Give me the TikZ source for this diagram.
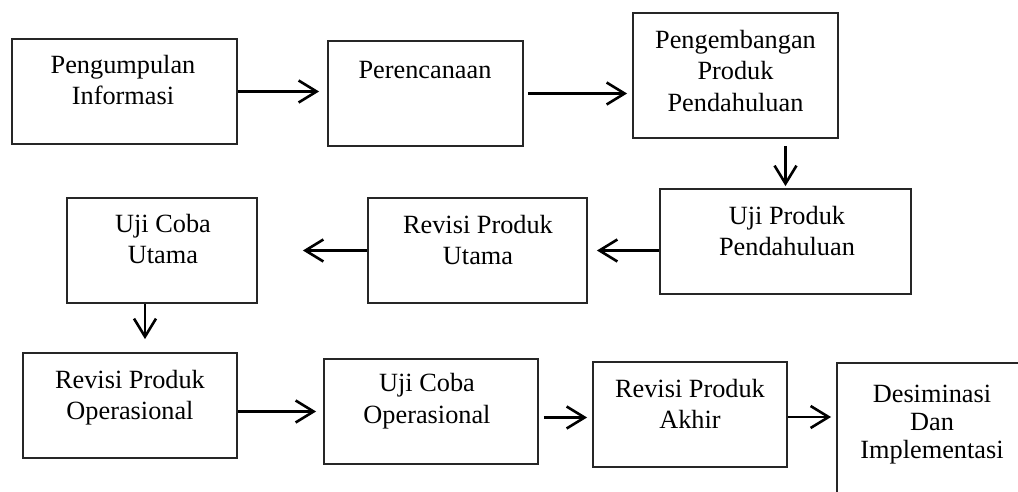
\documentclass[tikz,border=0pt]{standalone}
\usepackage{fontspec}
\setmainfont{Liberation Serif}
\usetikzlibrary{arrows.meta}
\tikzset{
  box/.style={draw=black!85, line width=1.8pt, inner sep=0pt, minimum height=105pt},
  lbl/.style={align=center, inner sep=0pt, font=\fontsize{26.3}{31.5}\selectfont},
  arr/.style={draw=black, line width=2.6pt, -{Straight Barb[length=18pt,width=22pt,line width=2.6pt]}}
}
\begin{document}
\begin{tikzpicture}[x=1pt,y=-1pt]
\useasboundingbox (0,0) rectangle (1018,492);
\clip (0,0) rectangle (1018,492);
% boxes
\node[box, minimum width=225pt] (b1) at (124.5,91.5) {};
\node[box, minimum width=195pt] (b2) at (425.5,93.5) {};
\node[box, minimum width=205pt, minimum height=125pt] (b3) at (735.5,75.5) {};
\node[box, minimum width=251pt] (b4) at (785.5,241.5) {};
\node[box, minimum width=219pt] (b5) at (477.5,250.5) {};
\node[box, minimum width=190pt] (b6) at (162,250.5) {};
\node[box, minimum width=214pt] (b7) at (130,405.5) {};
\node[box, minimum width=214pt] (b8) at (431,411.5) {};
\node[box, minimum width=194pt] (b9) at (690,414.5) {};
\node[box, minimum width=200pt, minimum height=156pt] (b10) at (937,441) {};
% labels
\node[lbl] (t1) at (123,80) {Pengumpulan\\Informasi};
\node[lbl] (t2) at (425,70) {Perencanaan};
\node[lbl] (t3) at (735.5,71) {Pengembangan\\Produk\\Pendahuluan};
\node[lbl] (t4) at (787,231) {Uji Produk\\Pendahuluan};
\node[lbl] (t5) at (478,240) {Revisi Produk\\Utama};
\node[lbl] (t6) at (163,239) {Uji Coba\\Utama};
\node[lbl] (t7) at (130,397.5) {Revisi Produk\\Operasional};
\node[lbl] (t8) at (427,401) {Uji Coba\\Operasional};
\node[lbl] (t9) at (690,404) {Revisi Produk\\Akhir};
\node[lbl, font=\fontsize{26.3}{28.3}\selectfont] (t10) at (932,424.5) {Desiminasi\\Dan\\Implementasi};
% connectors
\draw[arr, shorten >=8pt] (b1.east) -- (b1.east -| b2.west);
\draw[arr, shorten <=4pt, shorten >=5pt] (b2.east) -- (b2.east -| b3.west);
\draw[arr, shorten <=7pt, shorten >=2pt] (b3.south -| b4.north) -- (b4.north);
\draw[arr, shorten >=9pt] (b4.west |- b5.east) -- (b5.east);
\draw[arr, shorten >=45pt] (b5.west) -- (b5.west -| b6.east);
\draw[arr, shorten >=13pt] ([xshift=-17pt]b6.south) -- ([xshift=-17pt]b6.south |- b7.north);
\draw[arr, shorten >=7pt] (b7.east |- b8.west) -- (b8.west);
\draw[arr, shorten <=5pt, shorten >=5pt] ([yshift=-3pt]b8.east |- b9.west) -- ([yshift=-3pt]b9.west);
\draw[arr, shorten >=5pt] ([yshift=-2.5pt]b9.east) -- ([yshift=-2.5pt]b9.east -| b10.west);
\end{tikzpicture}
\end{document}
